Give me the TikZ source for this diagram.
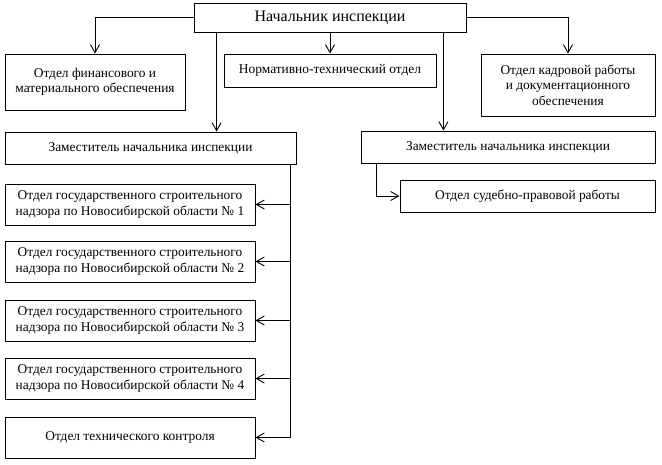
\documentclass[tikz,border=0pt]{standalone}
\usepackage{fontspec}
\setmainfont{Liberation Serif}
\usetikzlibrary{arrows.meta}
\begin{document}
\begin{tikzpicture}[x=1pt,y=-1pt,
  box/.style={draw,line width=0.9pt,rectangle,inner sep=1pt,align=center,font=\fontsize{13.4}{15.5}\selectfont},
  arr/.style={line width=0.9pt,-{Straight Barb[length=8pt,width=9pt,line width=0.9pt]}},
  ln/.style={line width=0.9pt}]
\useasboundingbox (0,0) rectangle (662,464);
\node[box,minimum width=272pt,minimum height=29pt,font=\fontsize{16}{19}\selectfont] (top) at (330,17.5) {Начальник инспекции};
\node[box,minimum width=180pt,minimum height=56pt] (fin) at (95,82) {Отдел финансового и\\материального обеспечения};
\node[box,minimum width=212pt,minimum height=33pt] (norm) at (330,70.5) {Нормативно-технический отдел};
\node[box,minimum width=174pt,minimum height=62pt] (kadr) at (568,85) {Отдел кадровой работы\\и документационного\\обеспечения};
\node[box,minimum width=291pt,minimum height=32pt] (zam1) at (150.5,148) {Заместитель начальника инспекции};
\node[box,minimum width=294pt,minimum height=32pt] (zam2) at (508,147) {Заместитель начальника инспекции};
\node[box,minimum width=255pt,minimum height=32pt] (sud) at (527.5,196) {Отдел судебно-правовой работы};
\node[box,minimum width=250pt,minimum height=41pt] (b1) at (130,204.5) {Отдел государственного строительного\\надзора по Новосибирской области № 1};
\node[box,minimum width=250pt,minimum height=41pt] (b2) at (130,261.5) {Отдел государственного строительного\\надзора по Новосибирской области № 2};
\node[box,minimum width=250pt,minimum height=41pt] (b3) at (130,320.5) {Отдел государственного строительного\\надзора по Новосибирской области № 3};
\node[box,minimum width=250pt,minimum height=41pt] (b4) at (130,378.5) {Отдел государственного строительного\\надзора по Новосибирской области № 4};
\node[box,minimum width=250pt,minimum height=41pt] (b5) at (130,437.5) {Отдел технического контроля};
\draw[arr] (top.west) -| (fin.north);
\draw[arr] (top.east) -| (kadr.north);
\draw[arr] (top.south) -- (norm.north);
\coordinate (tl) at ([xshift=23pt]top.south west);
\coordinate (tr) at ([xshift=-23pt]top.south east);
\draw[arr] (tl) -- (tl |- zam1.north);
\draw[arr] (tr) -- (tr |- zam2.north);
\coordinate (z2) at ([xshift=16pt]zam2.south west);
\draw[arr] (z2) |- (sud.west);
\coordinate (bus) at ([xshift=-6pt]zam1.south east);
\draw[arr] (bus) |- (b5.east);
\foreach \b in {b1,b2,b3,b4}{\draw[arr] (bus |- \b.east) -- (\b.east);}
\end{tikzpicture}
\end{document}
